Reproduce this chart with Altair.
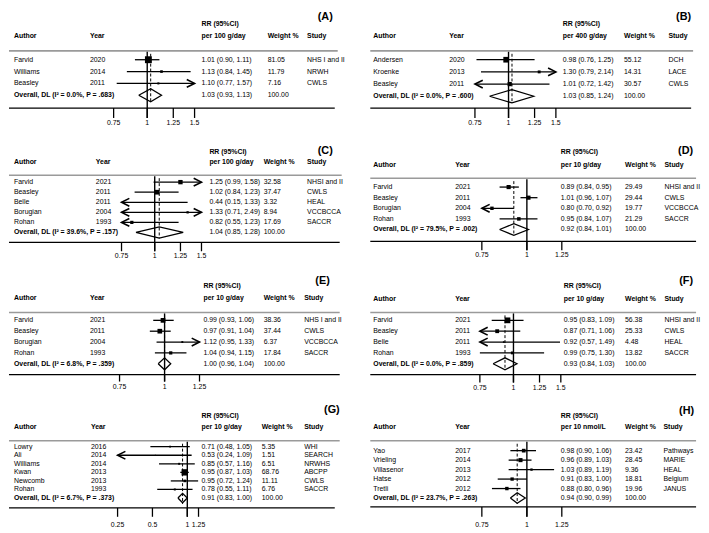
import math
import altair as alt
import pandas as pd

FONT = "Liberation Sans"

# ---------------- data ----------------
A_author = ["Farvid", "Williams", "Beasley"]
A_year = [2020, 2014, 2011]
A_est = [1.01, 1.13, 1.10]
A_lo = [0.90, 0.84, 0.77]
A_hi = [1.11, 1.45, 1.57]
A_weight = [81.05, 11.79, 7.16]
A_study = ["NHS I and II", "NRWH", "CWLS"]
A_overall = [1.03, 0.93, 1.13]
A_i2, A_p = "0.0%", ".683"
A_unit = "per 100 g/day"
A_ticks = [0.75, 1, 1.25, 1.5]
A_tick_labels = ["0.75", "1", "1.25", "1.5"]

B_author = ["Andersen", "Kroenke", "Beasley"]
B_year = [2020, 2013, 2011]
B_est = [0.98, 1.30, 1.01]
B_lo = [0.76, 0.79, 0.72]
B_hi = [1.25, 2.14, 1.42]
B_weight = [55.12, 14.31, 30.57]
B_study = ["DCH", "LACE", "CWLS"]
B_overall = [1.03, 0.85, 1.24]
B_i2, B_p = "0.0%", ".600"
B_unit = "per 400 g/day"
B_ticks = [0.75, 1, 1.25, 1.5]
B_tick_labels = ["0.75", "1", "1.25", "1.5"]

C_author = ["Farvid", "Beasley", "Belle", "Borugian", "Rohan"]
C_year = [2021, 2011, 2011, 2004, 1993]
C_est = [1.25, 1.02, 0.44, 1.33, 0.82]
C_lo = [0.99, 0.84, 0.15, 0.71, 0.55]
C_hi = [1.58, 1.23, 1.33, 2.49, 1.23]
C_weight = [32.58, 37.47, 3.32, 8.94, 17.69]
C_study = ["NHSI and II", "CWLS", "HEAL", "VCCBCCA", "SACCR"]
C_overall = [1.04, 0.85, 1.28]
C_i2, C_p = "39.6%", ".157"
C_unit = "per 100 g/day"
C_ticks = [0.75, 1, 1.25, 1.5]
C_tick_labels = ["0.75", "1", "1.25", "1.5"]

D_author = ["Farvid", "Beasley", "Borugian", "Rohan"]
D_year = [2021, 2011, 2004, 1993]
D_est = [0.89, 1.01, 0.80, 0.95]
D_lo = [0.84, 0.96, 0.70, 0.84]
D_hi = [0.95, 1.07, 0.92, 1.07]
D_weight = [29.49, 29.44, 19.77, 21.29]
D_study = ["NHSI and II", "CWLS", "VCCBCCA", "SACCR"]
D_overall = [0.92, 0.84, 1.01]
D_i2, D_p = "79.5%", ".002"
D_unit = "per 10 g/day"
D_ticks = [0.75, 1, 1.25]
D_tick_labels = ["0.75", "1", "1.25"]

E_author = ["Farvid", "Beasley", "Borugian", "Rohan"]
E_year = [2021, 2011, 2004, 1993]
E_est = [0.99, 0.97, 1.12, 1.04]
E_lo = [0.93, 0.91, 0.95, 0.94]
E_hi = [1.06, 1.04, 1.33, 1.15]
E_weight = [38.36, 37.44, 6.37, 17.84]
E_study = ["NHS I and II", "CWLS", "VCCBCCA", "SACCR"]
E_overall = [1.00, 0.96, 1.04]
E_i2, E_p = "6.8%", ".359"
E_unit = "per 10 g/day"
E_ticks = [0.75, 1, 1.25]
E_tick_labels = ["0.75", "1", "1.25"]

F_author = ["Farvid", "Beasley", "Belle", "Rohan"]
F_year = [2021, 2011, 2011, 1993]
F_est = [0.95, 0.87, 0.92, 0.99]
F_lo = [0.83, 0.71, 0.57, 0.75]
F_hi = [1.09, 1.06, 1.49, 1.30]
F_weight = [56.38, 25.33, 4.48, 13.82]
F_study = ["NHSI and II", "CWLS", "HEAL", "SACCR"]
F_overall = [0.93, 0.84, 1.03]
F_i2, F_p = "0.0%", ".859"
F_unit = "per 10 g/day"
F_ticks = [0.75, 1, 1.25, 1.5]
F_tick_labels = ["0.75", "1", "1.25", "1.5"]

G_author = ["Lowry", "Ali", "Williams", "Kwan", "Newcomb", "Rohan"]
G_year = [2016, 2014, 2014, 2013, 2013, 1993]
G_est = [0.71, 0.53, 0.85, 0.95, 0.95, 0.78]
G_lo = [0.48, 0.24, 0.57, 0.87, 0.72, 0.55]
G_hi = [1.05, 1.09, 1.16, 1.03, 1.24, 1.11]
G_weight = [5.35, 1.51, 6.51, 68.76, 11.11, 6.76]
G_study = ["WHI", "SEARCH", "NRWHS", "ABCPP", "CWLS", "SACCR"]
G_overall = [0.91, 0.83, 1.00]
G_i2, G_p = "6.7%", ".373"
G_unit = "per 10 g/day"
G_ticks = [0.25, 0.5, 1, 1.25]
G_tick_labels = ["0.25", "0.5", "1", "1.25"]

H_author = ["Yao", "Vrieling", "Villasenor", "Hatse", "Tretli"]
H_year = [2017, 2014, 2013, 2012, 2012]
H_est = [0.98, 0.96, 1.03, 0.91, 0.88]
H_lo = [0.90, 0.89, 0.89, 0.83, 0.80]
H_hi = [1.06, 1.03, 1.19, 1.00, 0.96]
H_weight = [23.42, 28.45, 9.36, 18.81, 19.96]
H_study = ["Pathways", "MARIE", "HEAL", "Belgium", "JANUS"]
H_overall = [0.94, 0.90, 0.99]
H_i2, H_p = "23.7%", ".263"
H_unit = "per 10 nmol/L"
H_ticks = [0.75, 1, 1.25]
H_tick_labels = ["0.75", "1", "1.25"]

# ---------------- layout (pixel positions inside each panel) ----------------
LAYOUT = {
    "A": dict(title_x=328, title_y=6, rr_x=195, rr_y1=13, rr_y2=25, hdr_y=25, author=5, year=82, weight=262, study=302,
              gy=40, gx=(0, 333), y0=49, y1=85, by=98, bx=(0, 330), tb=108, ly=113, domain=(0.75, 1.5), xrange=(106, 188), S=60),
    "B": dict(title_x=345, title_y=6, rr_x=215, rr_y1=13, rr_y2=25, hdr_y=25, author=23, year=100, weight=277, study=322,
              gy=40, gx=(20, 347), y0=49, y1=86, by=98, bx=(20, 345), tb=108, ly=113, domain=(0.75, 1.5), xrange=(126, 208), S=30),
    "C": dict(title_x=328, title_y=13, rr_x=203, rr_y1=15, rr_y2=25, hdr_y=25, author=5, year=88, weight=258, study=302,
              gy=38, gx=(0, 337), y0=45, y1=96, by=106, bx=(0, 335), tb=115, ly=120, domain=(0.75, 1.5), xrange=(114, 195), S=80),
    "D": dict(title_x=347, title_y=13, rr_x=213, rr_y1=15, rr_y2=28, hdr_y=28, author=23, year=106, weight=278, study=318,
              gy=41, gx=(20, 350), y0=50, y1=93, by=105, bx=(20, 350), tb=114, ly=119, domain=(0.75, 1.25), xrange=(133, 214), S=45),
    "E": dict(title_x=325, title_y=15, rr_x=197, rr_y1=20, rr_y2=32, hdr_y=32, author=5, year=82, weight=258, study=299,
              gy=47, gx=(0, 335), y0=55, y1=99, by=110, bx=(0, 335), tb=117, ly=123, domain=(0.75, 1.25), xrange=(112, 193), S=45),
    "F": dict(title_x=347, title_y=15, rr_x=216, rr_y1=20, rr_y2=33, hdr_y=33, author=23, year=106, weight=278, study=318,
              gy=47, gx=(20, 350), y0=55, y1=99, by=110, bx=(20, 350), tb=118, ly=124, domain=(0.75, 1.5), xrange=(131, 213), S=60),
    "G": dict(title_x=335, title_y=16, rr_x=195, rr_y1=22, rr_y2=33, hdr_y=33, author=5, year=83, weight=256, study=299,
              gy=47, gx=(0, 335), y0=53, y1=105, by=115, bx=(0, 330), tb=124, ly=132, domain=(0.25, 1.25), xrange=(110, 192), S=110),
    "H": dict(title_x=348, title_y=17, rr_x=213, rr_y1=22, rr_y2=33, hdr_y=33, author=23, year=106, weight=278, study=317,
              gy=47, gx=(20, 350), y0=57, y1=105, by=114, bx=(20, 350), tb=124, ly=132, domain=(0.75, 1.25), xrange=(133, 214), S=50),
}

LEFT_ARROW = "M1,-0.5L0,0L1,0.5"
RIGHT_ARROW = "M-1,-0.5L0,0L-1,0.5"


def panel(letter, authors, years, est, lo, hi, weights, studies, overall, i2, pval, unit, ticks, tick_labels, width, height):
    L = LAYOUT[letter]
    n = len(authors) + 1
    dmin, dmax = L["domain"]
    px0, px1 = L["xrange"]
    kx = (math.log(dmax) - math.log(dmin)) / (px1 - px0)
    lx0 = math.log(dmin) - px0 * kx
    lx1 = lx0 + width * kx
    xs = alt.Scale(type="log", domain=[math.exp(lx0), math.exp(lx1)], nice=False)
    ky = (n - 1) / (L["y1"] - L["y0"])
    d0 = 1 - L["y0"] * ky
    d1 = d0 + height * ky
    ys = alt.Scale(domain=[d0, d1], reverse=True, nice=False, zero=False)

    def X(f):
        return alt.X(f, scale=xs, axis=None)

    Yr = alt.Y("row:Q", scale=ys, axis=None)
    one = pd.DataFrame({"k": [0]})

    df = pd.DataFrame({
        "row": list(range(1, n)), "author": authors, "year": [str(y) for y in years],
        "est": est, "lo": lo, "hi": hi, "w": weights, "study": studies,
    })
    df["lo_c"] = df["lo"].clip(lower=dmin)
    df["hi_c"] = df["hi"].clip(upper=dmax)
    rr_txt = [f"{e:.2f} ({l:.2f}, {h:.2f})" for e, l, h in zip(est, lo, hi)]
    wt_txt = [f"{w:.2f}" for w in weights]
    tab = pd.DataFrame({
        "row": list(range(1, n + 1)),
        "rr": rr_txt + [f"{overall[0]:.2f} ({overall[1]:.2f}, {overall[2]:.2f})"],
        "wt": wt_txt + ["100.00"],
    })
    ov = pd.DataFrame({"row": [n], "label": [f"Overall, DL (I\u00b2 = {i2}, P = {pval})"]})
    tick_df = pd.DataFrame({"t": ticks, "lab": tick_labels})

    h = 0.55
    dia = pd.DataFrame({
        "x": [overall[1], overall[0], overall[2], overall[0], overall[1]],
        "row": [n, n - h, n, n + h, n],
        "o": [0, 1, 2, 3, 4],
    })

    def txt(text, x, y, bold=False, size=7, align="left"):
        return alt.Chart(one).mark_text(
            text=text, align=align, baseline="middle", font=FONT, fontSize=size,
            fontWeight="bold" if bold else "normal", color="black",
        ).encode(x=alt.value(x), y=alt.value(y))

    def hrule(x0, x1, y, color, sw):
        return alt.Chart(one).mark_rule(color=color, strokeWidth=sw).encode(
            x=alt.value(x0), x2=alt.value(x1), y=alt.value(y))

    def col_text(data, field, x, bold=False):
        return alt.Chart(data).mark_text(
            align="left", baseline="middle", font=FONT, fontSize=7,
            fontWeight="bold" if bold else "normal", color="black",
        ).encode(x=alt.value(x), y=Yr, text=f"{field}:N")

    layers = [
        hrule(L["gx"][0], L["gx"][1], L["gy"], "#9a9a9a", 1.6),
        hrule(L["bx"][0], L["bx"][1], L["by"], "black", 1.4),
        alt.Chart(tick_df).mark_rule(color="black", strokeWidth=1.3).encode(
            x=X("t:Q"), y=alt.value(L["by"]), y2=alt.value(L["tb"])),
        alt.Chart(tick_df).mark_text(font=FONT, fontSize=7, baseline="middle", align="center", color="black").encode(
            x=X("t:Q"), y=alt.value(L["ly"]), text="lab:N"),
        alt.Chart(pd.DataFrame({"v": [1.0]})).mark_rule(color="black", strokeWidth=1.4).encode(
            x=X("v:Q"), y=alt.value(L["gy"] + 1), y2=alt.value(L["tb"])),
        alt.Chart(pd.DataFrame({"v": [overall[0]]})).mark_rule(color="black", strokeWidth=1, strokeDash=[3, 2]).encode(
            x=X("v:Q"), y=alt.value(L["gy"] + 3), y2=alt.value(L["y1"] + 6)),
        alt.Chart(df).mark_rule(color="black", strokeWidth=1.3).encode(
            x=X("lo_c:Q"), x2=alt.X2("hi_c:Q"), y=Yr),
    ]
    sq = df[(df["est"] >= dmin) & (df["est"] <= dmax)]
    layers.append(alt.Chart(sq).mark_square(color="black", filled=True, opacity=1).encode(
        x=X("est:Q"), y=Yr,
        size=alt.Size("w:Q", scale=alt.Scale(domain=[0, 100], range=[0, L["S"]]), legend=None)))
    la = df[df["lo"] < dmin].assign(ax=dmin)
    if len(la):
        layers.append(alt.Chart(la).mark_point(shape=LEFT_ARROW, filled=False, color="black", strokeWidth=1.6,
                                               size=250, opacity=1).encode(x=X("ax:Q"), y=Yr))
    ra = df[df["hi"] > dmax].assign(ax=dmax)
    if len(ra):
        layers.append(alt.Chart(ra).mark_point(shape=RIGHT_ARROW, filled=False, color="black", strokeWidth=1.6,
                                               size=250, opacity=1).encode(x=X("ax:Q"), y=Yr))
    layers.append(alt.Chart(dia).mark_line(color="black", strokeWidth=1.3).encode(
        x=X("x:Q"), y=Yr, order="o:Q"))

    layers += [
        col_text(df, "author", L["author"]),
        col_text(df, "year", L["year"]),
        col_text(df, "study", L["study"]),
        col_text(tab, "rr", L["rr_x"]),
        col_text(tab, "wt", L["weight"]),
        col_text(ov, "label", L["author"], bold=True),
        txt(f"({letter})", L["title_x"], L["title_y"], bold=True, size=11, align="right"),
        txt("RR (95%CI)", L["rr_x"], L["rr_y1"], bold=True),
        txt(unit, L["rr_x"], L["rr_y2"], bold=True),
        txt("Author", L["author"], L["hdr_y"], bold=True),
        txt("Year", L["year"], L["hdr_y"], bold=True),
        txt("Weight %", L["weight"], L["hdr_y"], bold=True),
        txt("Study", L["study"], L["hdr_y"], bold=True),
    ]
    return alt.layer(*layers).properties(width=width, height=height)


LW, RW = 346, 355
HEIGHTS = [128, 130, 130, 135]

pA = panel("A", A_author, A_year, A_est, A_lo, A_hi, A_weight, A_study, A_overall, A_i2, A_p, A_unit, A_ticks, A_tick_labels, LW, HEIGHTS[0])
pB = panel("B", B_author, B_year, B_est, B_lo, B_hi, B_weight, B_study, B_overall, B_i2, B_p, B_unit, B_ticks, B_tick_labels, RW, HEIGHTS[0])
pC = panel("C", C_author, C_year, C_est, C_lo, C_hi, C_weight, C_study, C_overall, C_i2, C_p, C_unit, C_ticks, C_tick_labels, LW, HEIGHTS[1])
pD = panel("D", D_author, D_year, D_est, D_lo, D_hi, D_weight, D_study, D_overall, D_i2, D_p, D_unit, D_ticks, D_tick_labels, RW, HEIGHTS[1])
pE = panel("E", E_author, E_year, E_est, E_lo, E_hi, E_weight, E_study, E_overall, E_i2, E_p, E_unit, E_ticks, E_tick_labels, LW, HEIGHTS[2])
pF = panel("F", F_author, F_year, F_est, F_lo, F_hi, F_weight, F_study, F_overall, F_i2, F_p, F_unit, F_ticks, F_tick_labels, RW, HEIGHTS[2])
pG = panel("G", G_author, G_year, G_est, G_lo, G_hi, G_weight, G_study, G_overall, G_i2, G_p, G_unit, G_ticks, G_tick_labels, LW, HEIGHTS[3])
pH = panel("H", H_author, H_year, H_est, H_lo, H_hi, H_weight, H_study, H_overall, H_i2, H_p, H_unit, H_ticks, H_tick_labels, RW, HEIGHTS[3])

chart = alt.concat(pA, pB, pC, pD, pE, pF, pG, pH, columns=2, spacing=0, bounds="flush", padding=0).configure_view(stroke=None)

chart.save("out.html", embed_options={"renderer": "svg", "actions": False})
